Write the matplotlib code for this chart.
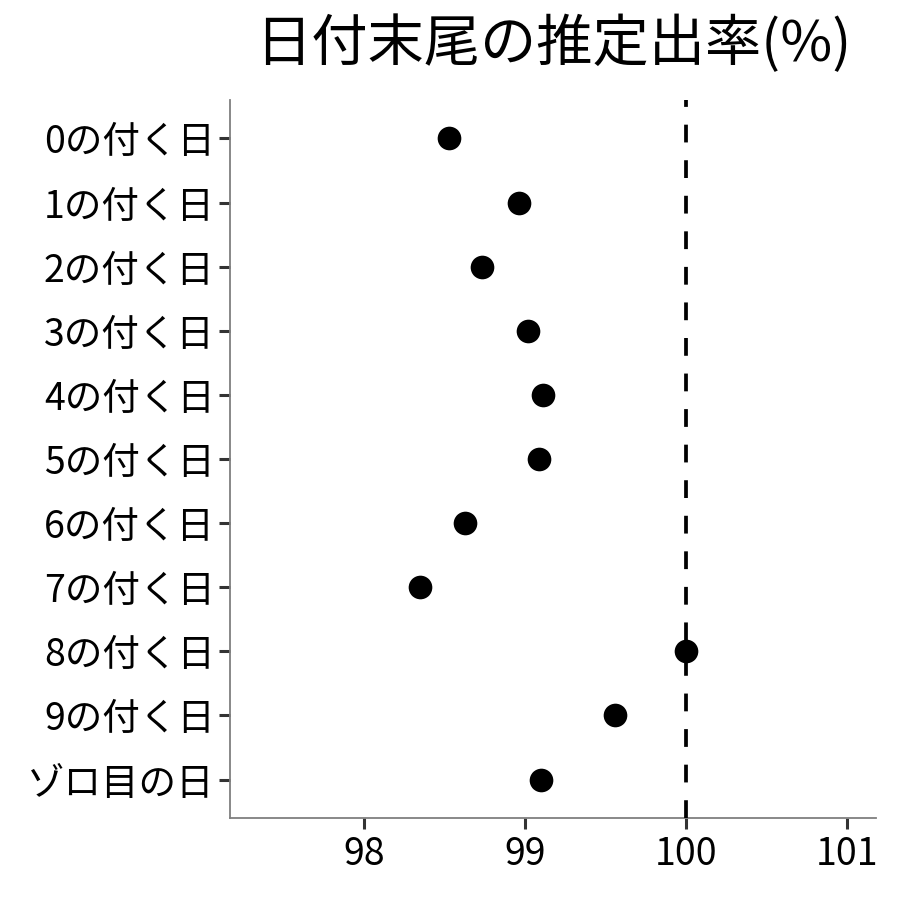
import matplotlib
matplotlib.use("Agg")
import matplotlib.pyplot as plt

plt.rcParams['font.family'] = ['Noto Sans CJK JP', 'DejaVu Sans']
plt.rcParams['lines.scale_dashes'] = False

categories = ["0の付く日", "1の付く日", "2の付く日", "3の付く日", "4の付く日",
              "5の付く日", "6の付く日", "7の付く日", "8の付く日", "9の付く日", "ゾロ目の日"]
values = [98.53, 98.96, 98.73, 99.02, 99.11, 99.09, 98.63, 98.35, 100.0, 99.56, 99.10]
ref_value = 100
xticks = [98, 99, 100, 101]
title = "日付末尾の推定出率(%)"

fig = plt.figure(figsize=(9, 9), dpi=100)
ax = fig.add_axes([230/900, 1-818/900, (876-230)/900, (818-100)/900])

ypos = list(range(len(categories)))
ax.scatter(values, ypos, s=290, color='black', zorder=2, linewidths=0)
ax.axvline(ref_value, color='black', linewidth=2.7, dashes=(12.8, 12.8), zorder=3)

ax.set_xlim(97.168, 101.18)
ax.set_ylim(len(categories) - 0.4, -0.6)
ax.set_xticks(xticks)
ax.set_xticklabels([str(t) for t in xticks])
ax.set_yticks(ypos)
ax.set_yticklabels(categories)

for s in ['top', 'right']:
    ax.spines[s].set_visible(False)
for s in ['left', 'bottom']:
    ax.spines[s].set_color('#7f7f7f')
    ax.spines[s].set_linewidth(1.3)
ax.tick_params(axis='both', color='#333333', width=2.2, length=8, labelsize=27,
               labelcolor='black')
ax.tick_params(axis='x', pad=4)
ax.tick_params(axis='y', pad=3)

fig.text((230 + 876) / 2 / 900, 1 - 45/900, title, fontsize=40.5, ha='center', va='center')

fig.savefig("out.png", dpi=100)
